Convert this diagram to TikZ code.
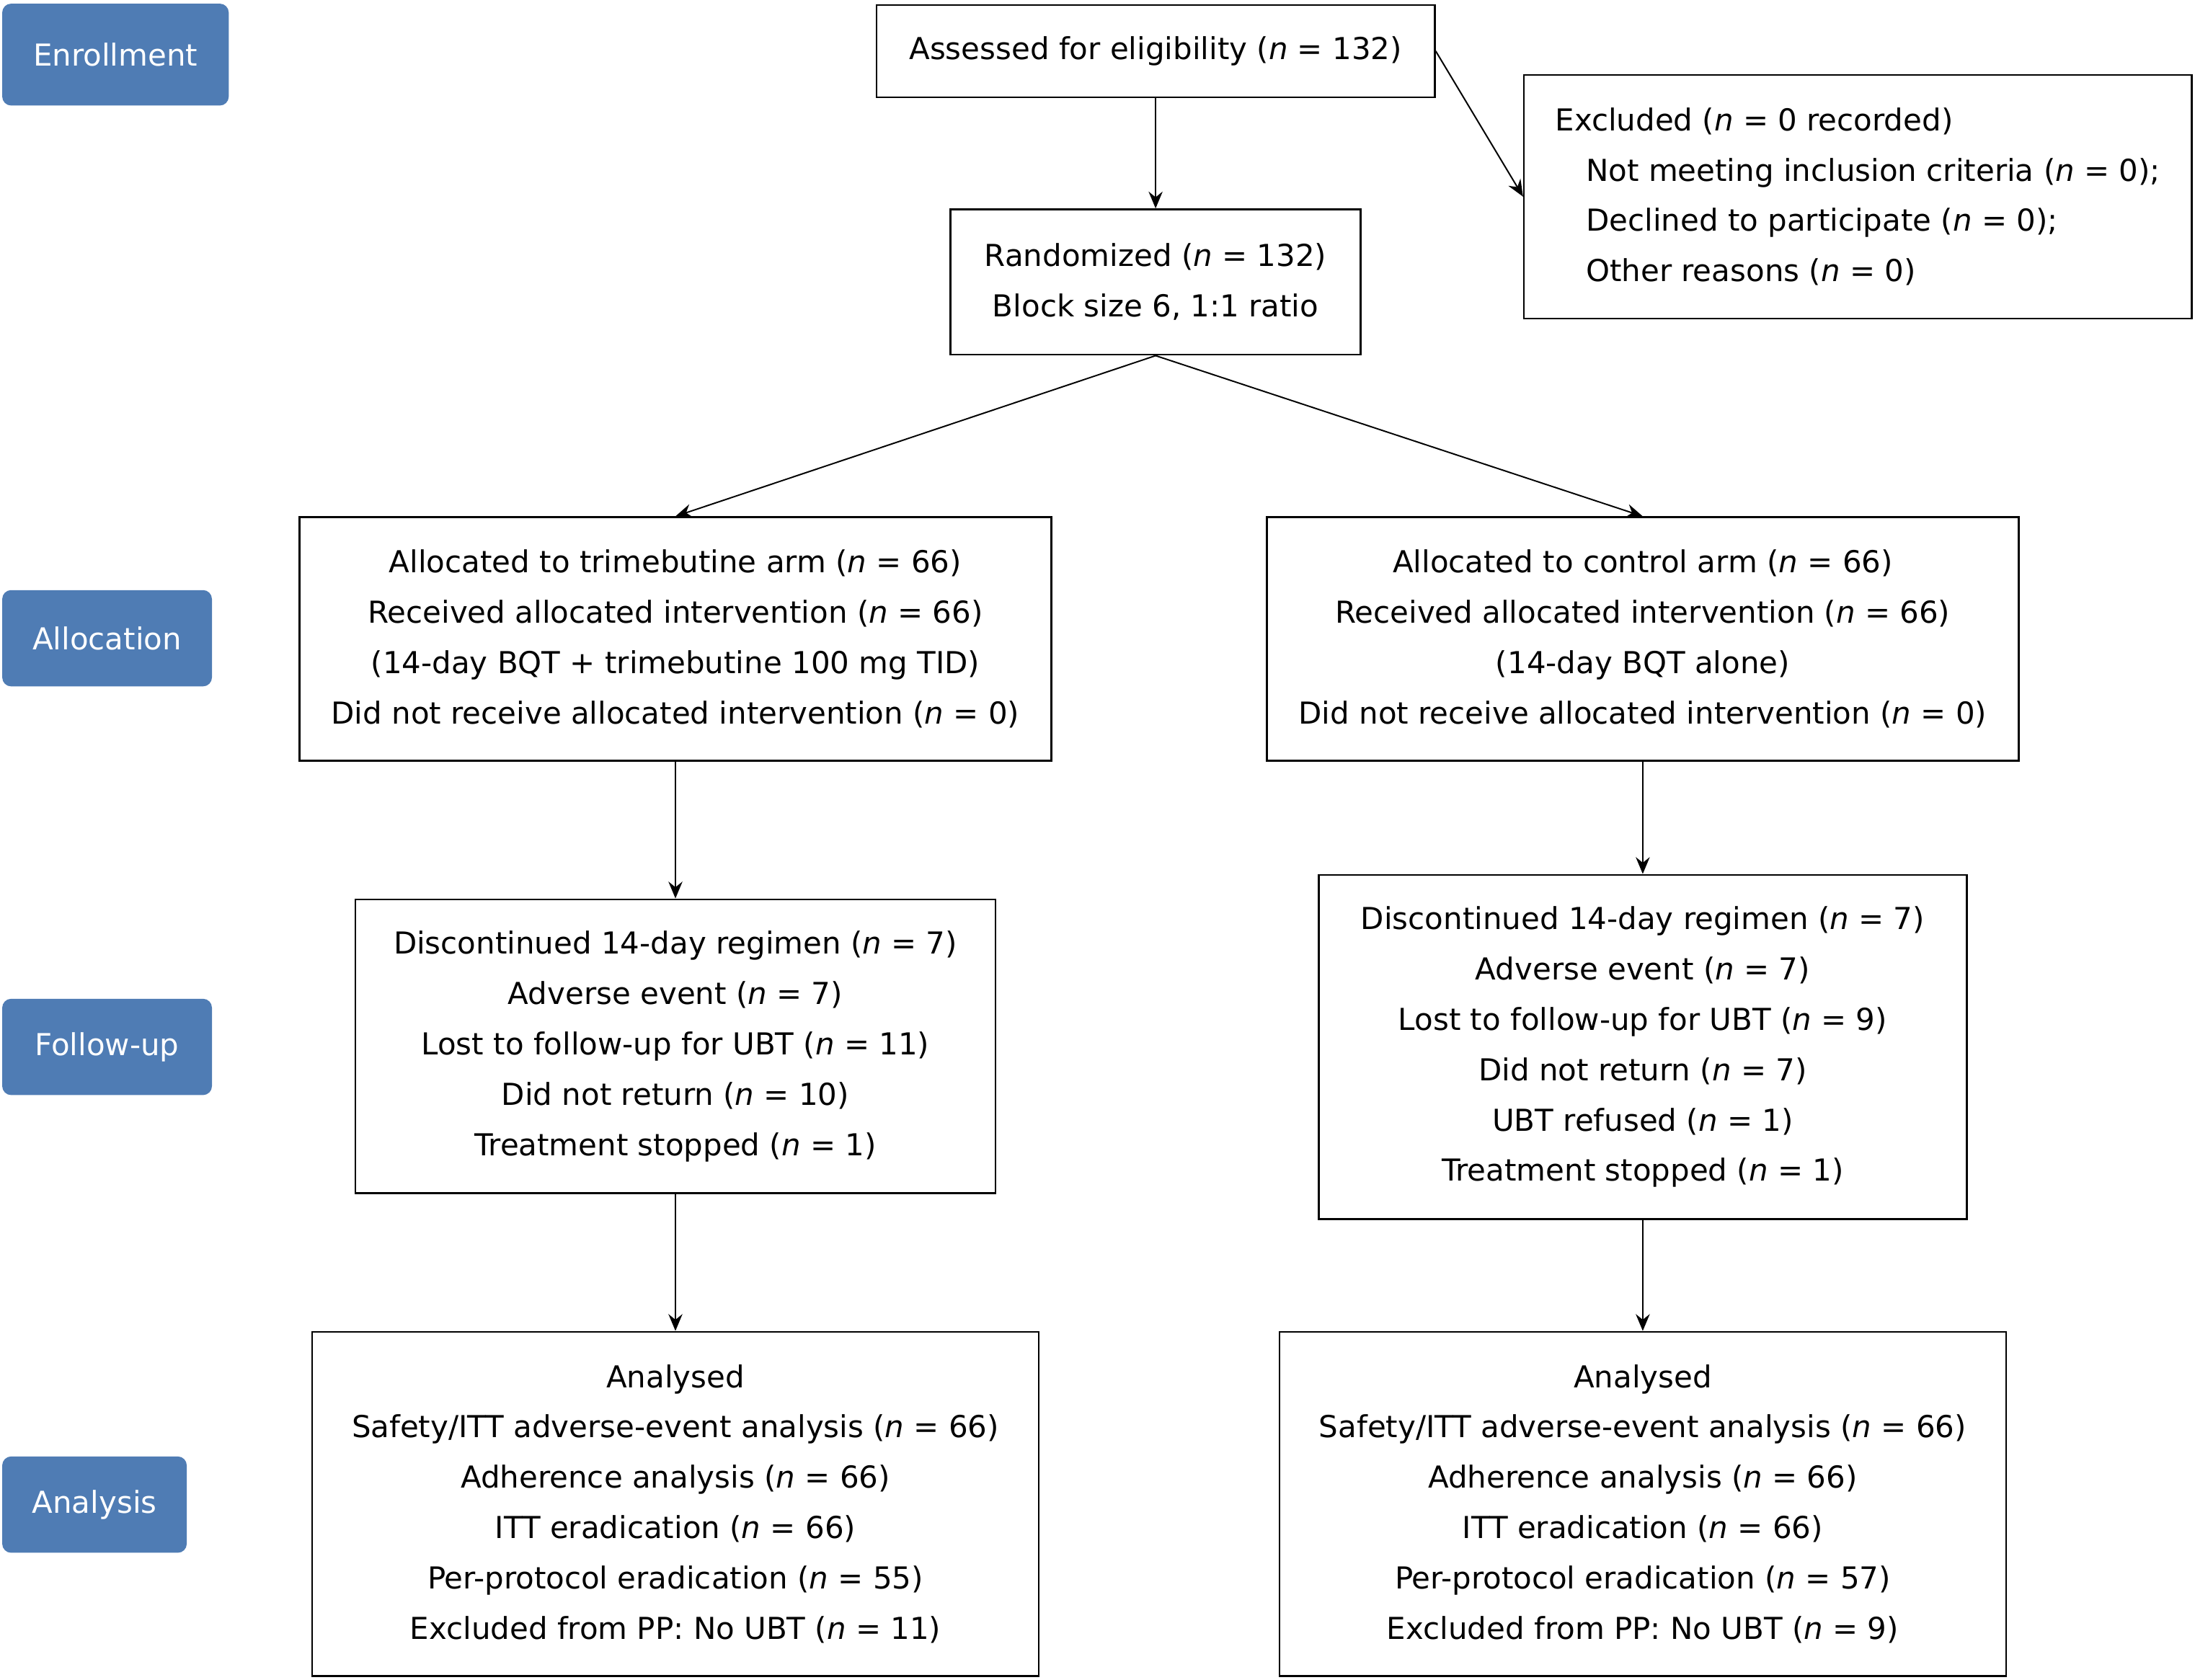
\documentclass[tikz,border=0pt]{standalone}
\usepackage{fontspec}
\setmainfont{DejaVu Sans}
\usetikzlibrary{arrows.meta}
\definecolor{stageblue}{RGB}{79,124,180}
\newcommand{\nv}{\textit{n}}
\tikzset{
	flowbox/.style={draw=black, line width=0.6pt, align=center, inner xsep=8pt, inner ysep=0pt, font=\fontsize{10.8pt}{18pt}\selectfont},
	stage/.style={fill=stageblue, draw=stageblue, rounded corners=3pt, text=white, inner xsep=4pt, minimum height=34pt, font=\fontsize{10.8pt}{18pt}\selectfont},
	flow/.style={-{Stealth[length=6pt,width=5pt,inset=2pt]}, line width=0.5pt}
}
\begin{document}
\begin{tikzpicture}[x=0.5pt,y=-0.5pt]
			\useasboundingbox (0,0) rectangle (1568,1200.3);
			\node[stage, minimum width=80.5pt, minimum height=36pt] (enrol) at (82.5,39) {Enrollment};
			\node[stage, minimum width=74.5pt] (alloc) at (76.5,456) {Allocation};
			\node[stage, minimum width=74.5pt] (follow) at (76.5,748) {Follow-up};
			\node[stage, minimum width=65.5pt] (analys) at (67.5,1075) {Analysis};
			\node[flowbox, minimum width=199.5pt, minimum height=33pt] (assess) at (825.5,36.5) {Assessed for eligibility (\nv{} = 132)};
			\node[flowbox, inner xsep=11pt, minimum width=238.5pt, minimum height=87pt, align=left, anchor=west] (excl) at (1088,140.5) {Excluded (\nv{} = 0 recorded)\\\hspace*{11pt}Not meeting inclusion criteria (\nv{} = 0);\\\hspace*{11pt}Declined to participate (\nv{} = 0);\\\hspace*{11pt}Other reasons (\nv{} = 0)};
			\node[flowbox, minimum width=146.5pt, minimum height=52pt] (rand) at (825.5,201.5) {Randomized (\nv{} = 132)\\Block size 6, 1:1 ratio};
			\node[flowbox, minimum width=268.5pt, minimum height=87pt] (trimarm) at (482.5,456.5) {Allocated to trimebutine arm (\nv{} = 66)\\Received allocated intervention (\nv{} = 66)\\(14-day BQT + trimebutine 100 mg TID)\\Did not receive allocated intervention (\nv{} = 0)};
			\node[flowbox, minimum width=268.5pt, minimum height=87pt] (ctrlarm) at (1173.5,456.5) {Allocated to control arm (\nv{} = 66)\\Received allocated intervention (\nv{} = 66)\\(14-day BQT alone)\\Did not receive allocated intervention (\nv{} = 0)};
			\node[flowbox, minimum width=228.5pt, minimum height=105pt] (trimfu) at (482.5,747.5) {Discontinued 14-day regimen (\nv{} = 7)\\Adverse event (\nv{} = 7)\\Lost to follow-up for UBT (\nv{} = 11)\\Did not return (\nv{} = 10)\\Treatment stopped (\nv{} = 1)};
			\node[flowbox, minimum width=231.5pt, minimum height=123pt] (ctrlfu) at (1173.5,748) {Discontinued 14-day regimen (\nv{} = 7)\\Adverse event (\nv{} = 7)\\Lost to follow-up for UBT (\nv{} = 9)\\Did not return (\nv{} = 7)\\UBT refused (\nv{} = 1)\\Treatment stopped (\nv{} = 1)};
			\node[flowbox, minimum width=259.5pt, minimum height=123pt] (triman) at (482.5,1074.5) {Analysed\\Safety/ITT adverse-event analysis (\nv{} = 66)\\Adherence analysis (\nv{} = 66)\\ITT eradication (\nv{} = 66)\\Per-protocol eradication (\nv{} = 55)\\Excluded from PP: No UBT (\nv{} = 11)};
			\node[flowbox, minimum width=259.5pt, minimum height=123pt] (ctrlan) at (1173.5,1074.5) {Analysed\\Safety/ITT adverse-event analysis (\nv{} = 66)\\Adherence analysis (\nv{} = 66)\\ITT eradication (\nv{} = 66)\\Per-protocol eradication (\nv{} = 57)\\Excluded from PP: No UBT (\nv{} = 9)};
			\draw[flow] (assess) -- (rand);
			\draw[flow] (assess.east) -- (excl.west);
			\draw[flow] (rand.south) -- (trimarm.north);
			\draw[flow] (rand.south) -- (ctrlarm.north);
			\draw[flow] (trimarm) -- (trimfu);
			\draw[flow] (ctrlarm) -- (ctrlfu);
			\draw[flow] (trimfu) -- (triman);
			\draw[flow] (ctrlfu) -- (ctrlan);
		\end{tikzpicture}
\end{document}
